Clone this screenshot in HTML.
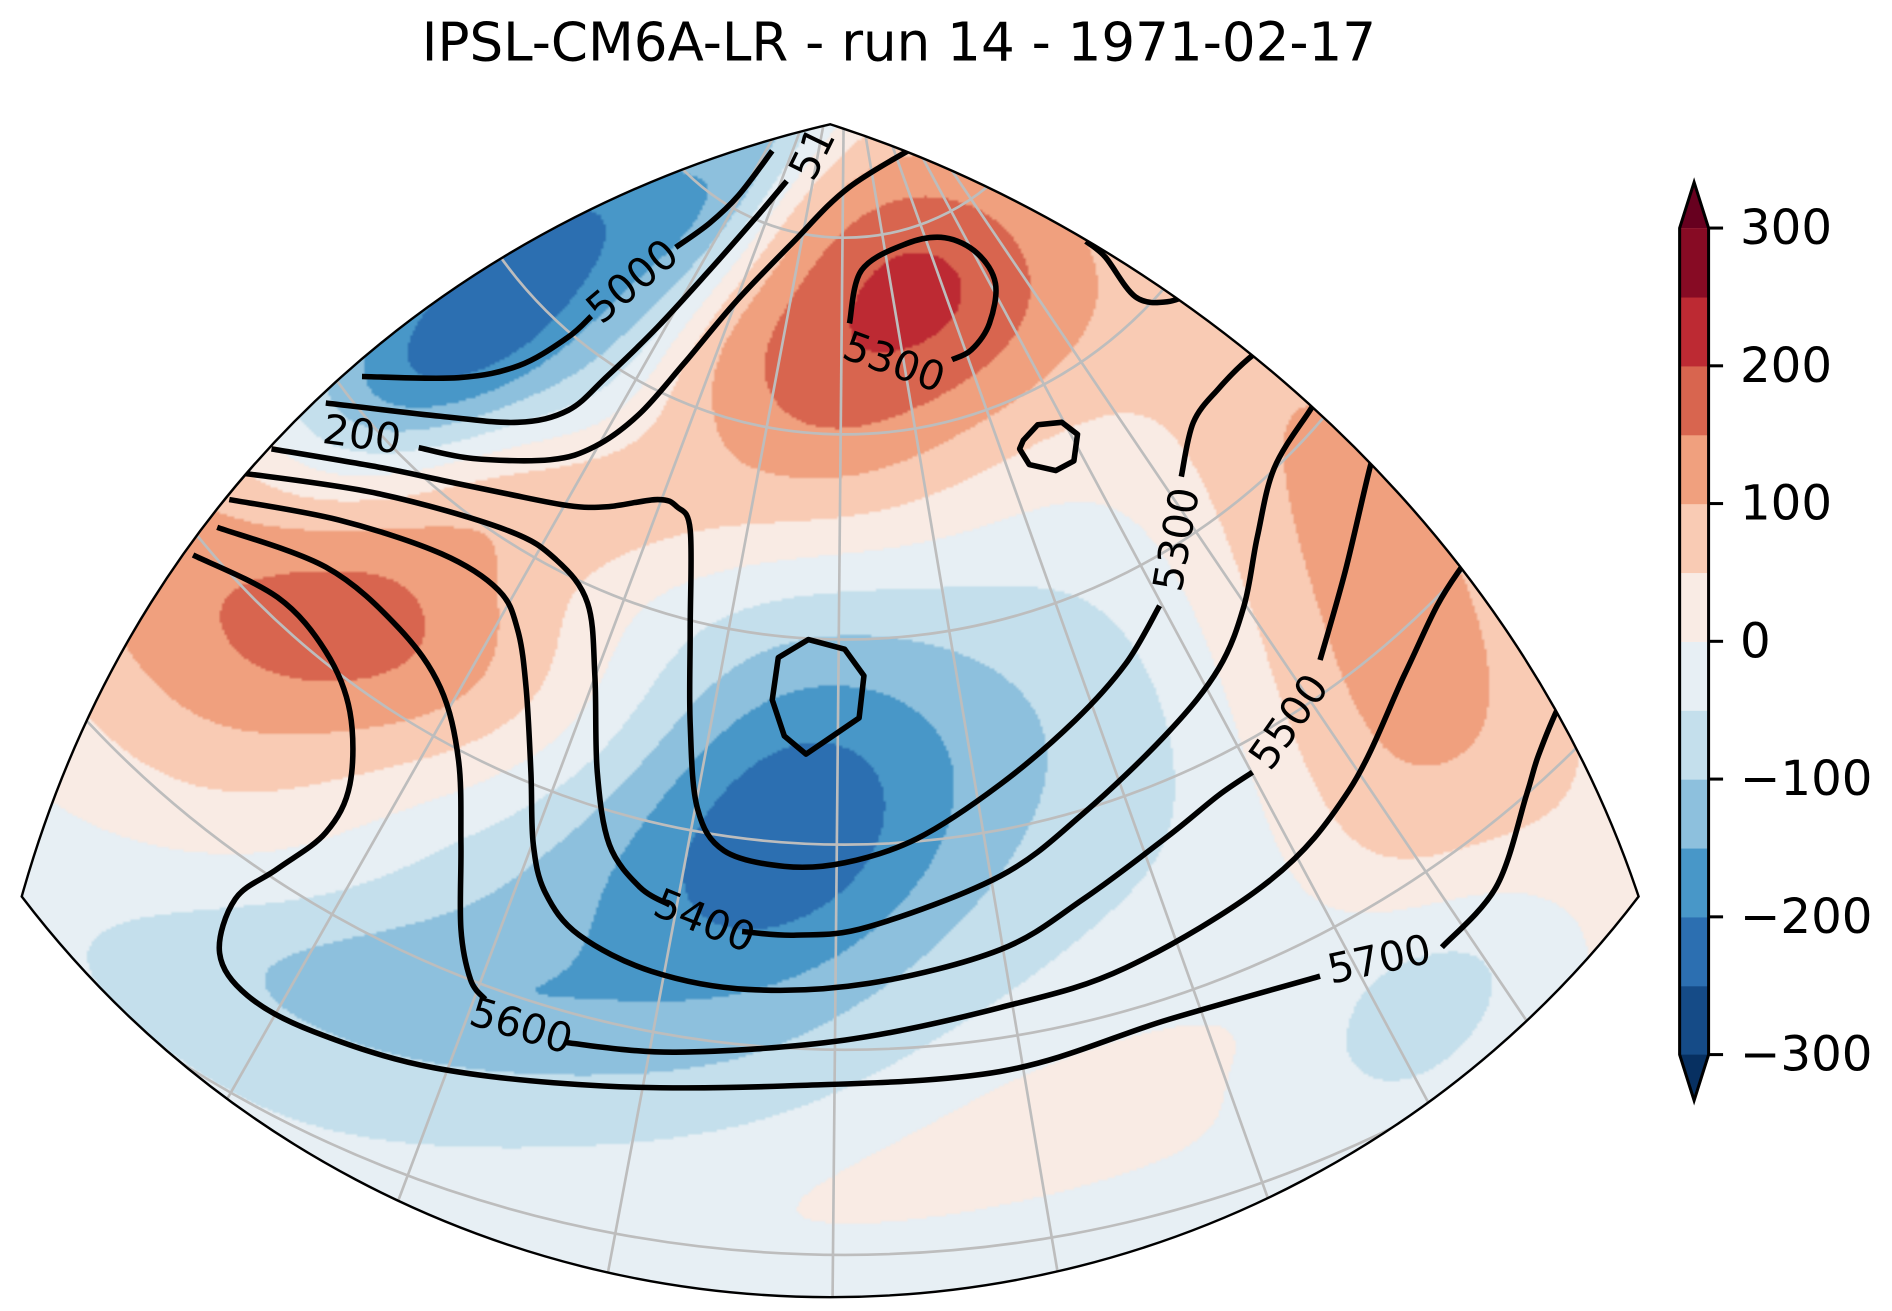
<!DOCTYPE html>
<html><head><meta charset="utf-8"><style>
html,body{margin:0;padding:0;background:#fff;overflow:hidden;width:1892px;height:1311px;}
#wrap{position:relative;width:1892px;height:1311px;overflow:hidden;}
#cv{position:absolute;left:0;top:0;width:1892px;height:1311px;display:block;}
#sv{position:absolute;left:0;top:0;display:block;}
text{font-family:"DejaVu Sans","Liberation Sans",sans-serif;}
</style></head><body>
<div id="wrap">
<canvas id="cv" width="1892" height="1311"></canvas>
<svg id="sv" width="1892" height="1311" viewBox="0 0 1568 1086.5">
<defs><clipPath id="mapclip"><path id="bp" d="M18,743 C120,380 400,170 688,103 C960,190 1250,420 1358,743 A842,842 0 0 1 18,743 Z"/></clipPath></defs>
<text x="745" y="50" font-size="44" text-anchor="middle">IPSL-CM6A-LR - run 14 - 1971-02-17</text>
<g id="grat" clip-path="url(#mapclip)"></g>
<g id="cont" clip-path="url(#mapclip)"></g>
<g id="clab"></g>
<path d="M18,743 C120,380 400,170 688,103 C960,190 1250,420 1358,743 A842,842 0 0 1 18,743 Z" fill="none" stroke="#000" stroke-width="2"/>
<g id="cbar"></g>
</svg>
</div>
<script>
const levels=[-300,-250,-200,-150,-100,-50,0,50,100,150,200,250,300];
const bandColors=["#154b87","#2c6fb1","#4897c8","#8dc0dd","#c4dfec","#e7eff4","#f9ebe4","#f9cbb4","#f0a07e","#d8654f","#bd2a33","#870b24"];
const underColor="#073061", overColor="#67001f";
const tickValues=[300,200,100,0,-100,-200,-300];
const tickLabels=["300","200","100","0","\u2212100","\u2212200","\u2212300"];
// anomaly blobs: centre x,y (map coords), amplitude, spread along/across, angle(deg)
const blobX=[420,600,760,640,470,270,650,600,320,1150,1110,1200,820,930,150];
const blobY=[250,175,240,330,410,500,690,700,820,470,640,810,965,880,600];
const blobAmp=[-235,-90,228,80,90,200,-110,-125,-60,150,50,-95,35,30,70];
const blobSa=[175,120,110,100,150,180,110,270,170,230,150,90,200,150,150];
const blobSb=[60,30,100,60,50,85,90,120,45,90,60,55,35,30,80];
const blobAng=[-40,-55,0,30,5,25,-60,-20,10,62,60,-40,-12,-15,40];
const baseValue=-20;

function field(x,y){let v=baseValue;for(let k=0;k<blobX.length;k++){const a=blobAng[k]*Math.PI/180;const dx=x-blobX[k],dy=y-blobY[k];const u=dx*Math.cos(a)+dy*Math.sin(a),w=-dx*Math.sin(a)+dy*Math.cos(a);v+=blobAmp[k]*Math.exp(-0.5*(u*u/(blobSa[k]*blobSa[k])+w*w/(blobSb[k]*blobSb[k])));}return v;}
function colorOf(v){if(v<levels[0])return underColor;if(v>=levels[levels.length-1])return overColor;return bandColors[Math.min(bandColors.length-1,Math.floor((v-levels[0])/50))];}
function hex(c){return [parseInt(c.substr(1,2),16),parseInt(c.substr(3,2),16),parseInt(c.substr(5,2),16)];}
(function(){const W=784,H=544;const off=document.createElement('canvas');off.width=W;off.height=H;const oc=off.getContext('2d');const img=oc.createImageData(W,H);
for(let j=0;j<H;j++)for(let i=0;i<W;i++){const c=hex(colorOf(field(i*2+1,j*2+1)));const p=(j*W+i)*4;img.data[p]=c[0];img.data[p+1]=c[1];img.data[p+2]=c[2];img.data[p+3]=255;}
oc.putImageData(img,0,0);const cv=document.getElementById('cv');const ctx=cv.getContext('2d');const s=1892/1568;ctx.scale(s,s);
ctx.save();ctx.clip(new Path2D(document.getElementById('bp').getAttribute('d')));ctx.imageSmoothingEnabled=true;ctx.drawImage(off,0,0,1568,1088);ctx.restore();})();

const NS="http://www.w3.org/2000/svg";
function cr(pts,closed){let d="M"+pts[0][0]+","+pts[0][1];const n=pts.length;const g=i=>closed?pts[(i+n)%n]:pts[Math.max(0,Math.min(n-1,i))];const m=closed?n:n-1;
for(let i=0;i<m;i++){const p0=g(i-1),p1=g(i),p2=g(i+1),p3=g(i+2);d+=" C"+(p1[0]+(p2[0]-p0[0])/6).toFixed(1)+","+(p1[1]+(p2[1]-p0[1])/6).toFixed(1)+" "+(p2[0]-(p3[0]-p1[0])/6).toFixed(1)+","+(p2[1]-(p3[1]-p1[1])/6).toFixed(1)+" "+p2[0]+","+p2[1];}return d+(closed?" Z":"");}

// graticule
const gg=document.getElementById('grat');const pole=[700,10];
const parallelRadii=[187,350,520,690,860,1030];
const meridianEndX=[95,300,500,690,880,1080,1270,1420];
parallelRadii.forEach(r=>{const c=document.createElementNS(NS,'circle');c.setAttribute('cx',pole[0]);c.setAttribute('cy',pole[1]);c.setAttribute('r',r);c.setAttribute('fill','none');c.setAttribute('stroke','#bdbdbd');c.setAttribute('stroke-width','2.2');


gg.appendChild(c);});
meridianEndX.forEach(x=>{const l=document.createElementNS(NS,'line');l.setAttribute('x1',pole[0]);l.setAttribute('y1',pole[1]);l.setAttribute('x2',x);l.setAttribute('y2',1075);l.setAttribute('stroke','#bdbdbd');l.setAttribute('stroke-width','2.2');


gg.appendChild(l);});

// height contours
const contourSegs=[
{lv:"5000",pts:[[300,312],[380,313],[430,303],[470,280],[490,262]]},
{lv:"5000",pts:[[560,205],[588,185],[612,162],[640,125]]},
{lv:"5100",pts:[[270,334],[365,345],[429,350],[471,340],[503,312],[545,271],[588,224],[625,182],[652,150]]},
{lv:"5200",pts:[[347,371],[392,380],[456,381],[493,370],[530,343],[567,301],[609,251],[657,201],[704,155],[770,115]]},
{lv:"5300",pts:[[225,372],[313,387],[366,398],[419,409],[471,419],[503,420],[545,414],[561,420],[572,439],[572,522],[572,600],[578,670],[600,705],[650,718],[700,715],[760,695],[829,650],[891,597],[933,550],[961,502]]},
{lv:"5300",pts:[[979,395],[989,350],[1010,322],[1035,297],[1060,280]]},
{lv:"5300",pts:[[704,268],[714,224],[751,202],[783,197],[810,210],[825,235],[820,268],[805,290],[789,298]]},
{lv:"5300",pts:[[900,200],[916,213],[941,246],[968,250],[995,240]]},
{lv:"5400",pts:[[200,392],[313,409],[419,439],[461,464],[487,500],[493,560],[495,640],[505,700],[530,735],[555,750]]},
{lv:"5400",pts:[[615,772],[660,775],[720,768],[829,726],[898,674],[968,607],[1010,554],[1031,502],[1042,445],[1056,388],[1085,341],[1100,320]]},
{lv:"5500",pts:[[190,414],[281,431],[366,459],[413,489],[429,522],[436,570],[440,640],[442,700],[452,740],[480,775],[540,805],[620,820],[720,815],[829,787],[898,745],[968,693],[1010,659],[1038,640]]},
{lv:"5500",pts:[[1094,547],[1115,473],[1136,385],[1145,360]]},
{lv:"5600",pts:[[180,437],[270,470],[330,520],[365,570],[380,630],[382,700],[382,770],[390,812],[402,828]]},
{lv:"5600",pts:[[468,864],[560,872],[700,862],[829,835],[933,802],[1052,730],[1118,655],[1164,559],[1191,502],[1212,469],[1230,445]]},
{lv:"5700",pts:[[160,460],[230,495],[270,540],[290,590],[290,650],[270,690],[230,720],[195,745],[182,790],[205,825],[260,855],[360,885],[500,900],[650,900],[829,888],[968,845],[1094,809]]},
{lv:"5700",pts:[[1195,785],[1240,735],[1265,659],[1275,626],[1293,583],[1310,555]]}
];
const closedLoops=[
{lv:"5300",pts:[[848,365],[860,352],[880,350],[893,360],[890,382],[875,390],[853,385],[845,372]]},
{lv:"5400",pts:[[645,545],[670,530],[700,538],[716,560],[712,595],[690,610],[668,625],[650,610],[640,580]]}
];
const cg=document.getElementById('cont');
contourSegs.forEach(s=>{const p=document.createElementNS(NS,'path');p.setAttribute('d',cr(s.pts,false));p.setAttribute('fill','none');p.setAttribute('stroke','#000');p.setAttribute('stroke-width','4.6');p.setAttribute('stroke-linejoin','round');


cg.appendChild(p);});
closedLoops.forEach(s=>{const p=document.createElementNS(NS,'path');p.setAttribute('d',"M"+s.pts.map(q=>q.join(",")).join(" L")+" Z");p.setAttribute('fill','none');p.setAttribute('stroke','#000');p.setAttribute('stroke-width','4.6');p.setAttribute('stroke-linejoin','round');


cg.appendChild(p);});

const labelText=["5000","51","200","5300","5300","5500","5700","5400","5600"];
const labelX=[524,673,300,741,975,1068,1143,584,432];
const labelY=[233,127,360,300,447,598,795,763,850];
const labelRot=[-40,-64,8,20,-80,-55,-12,22,17];
const lg=document.getElementById('clab');
labelText.forEach((t,i)=>{const e=document.createElementNS(NS,'text');e.textContent=t;e.setAttribute('x',labelX[i]);e.setAttribute('y',labelY[i]);e.setAttribute('font-size','34');e.setAttribute('text-anchor','middle');e.setAttribute('dominant-baseline','central');e.setAttribute('transform','rotate('+labelRot[i]+' '+labelX[i]+' '+labelY[i]+')');


lg.appendChild(e);});

// colorbar
const cb=document.getElementById('cbar');const cbX=1392,cbW=24,cbTop=189,cbBot=874;
const yOf=v=>cbBot-(v-levels[0])/(levels[levels.length-1]-levels[0])*(cbBot-cbTop);
bandColors.forEach((c,i)=>{const r=document.createElementNS(NS,'rect');r.setAttribute('x',cbX);r.setAttribute('y',yOf(levels[i+1]));r.setAttribute('width',cbW);r.setAttribute('height',yOf(levels[i])-yOf(levels[i+1])+0.5);r.setAttribute('fill',c);


cb.appendChild(r);});
const tri1=document.createElementNS(NS,'path');tri1.setAttribute('d',`M${cbX},${cbTop} L${cbX+cbW/2},${cbTop-38} L${cbX+cbW},${cbTop} Z`);tri1.setAttribute('fill',overColor);


cb.appendChild(tri1);
const tri2=document.createElementNS(NS,'path');tri2.setAttribute('d',`M${cbX},${cbBot} L${cbX+cbW/2},${cbBot+38} L${cbX+cbW},${cbBot} Z`);tri2.setAttribute('fill',underColor);


cb.appendChild(tri2);
const outl=document.createElementNS(NS,'path');outl.setAttribute('d',`M${cbX},${cbTop} L${cbX+cbW/2},${cbTop-38} L${cbX+cbW},${cbTop} L${cbX+cbW},${cbBot} L${cbX+cbW/2},${cbBot+38} L${cbX},${cbBot} Z`);outl.setAttribute('fill','none');outl.setAttribute('stroke','#000');outl.setAttribute('stroke-width','2.5');


cb.appendChild(outl);
tickValues.forEach((v,i)=>{const y=yOf(v);const l=document.createElementNS(NS,'line');l.setAttribute('x1',cbX+cbW);l.setAttribute('x2',cbX+cbW+12);l.setAttribute('y1',y);l.setAttribute('y2',y);l.setAttribute('stroke','#000');l.setAttribute('stroke-width','2.5');


cb.appendChild(l);
const t=document.createElementNS(NS,'text');t.textContent=tickLabels[i];t.setAttribute('x',cbX+cbW+26);t.setAttribute('y',y);t.setAttribute('font-size','40');t.setAttribute('dominant-baseline','central');


cb.appendChild(t);});
</script>
</body></html>
